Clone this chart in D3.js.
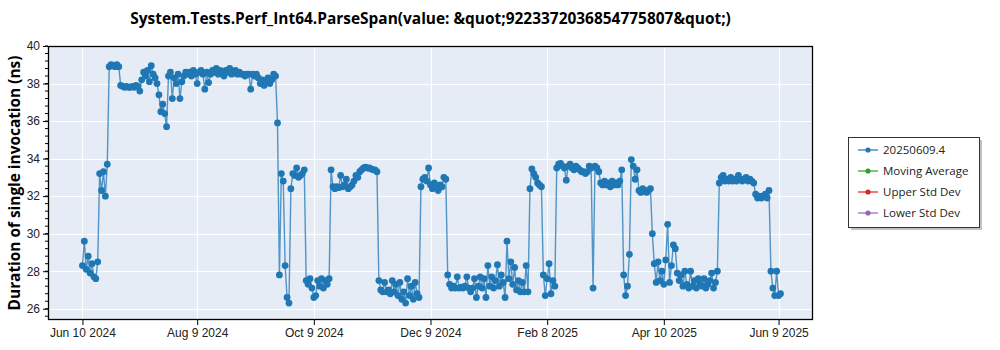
<!DOCTYPE html>
<html>
<head>
<meta charset="utf-8">
<script src="https://cdn.jsdelivr.net/npm/d3@7"></script>
<style>
  html, body { margin: 0; padding: 0; background: #fff; }
  svg { display: block; font-family: "Open Sans", "Noto Sans", sans-serif; }
</style>
</head>
<body>
<svg id="chart" width="1000" height="350"></svg>
<script>
// ---------------- data ----------------
const chartTitle = "System.Tests.Perf_Int64.ParseSpan(value: &quot;9223372036854775807&quot;)";
const yAxisTitle = "Duration of single invocation (ns)";
const seriesNames = ["20250609.4", "Moving Average", "Upper Std Dev", "Lower Std Dev"];
const seriesColors = ["#1f77b4", "#2ca02c", "#d62728", "#9467bd"];
const startDate = "2024-06-10";   // first measurement, one value per day after that
const values = [
  28.3, 29.6, 28.1, 28.8, 27.9, 28.4, 27.7, 27.6, 28.5,
  33.2, 32.3, 33.3, 32.0, 33.7,
  38.9, 39.0, 38.95, 38.9, 39.0, 38.9,
  37.9, 37.85, 37.8, 37.85, 37.8, 37.8, 37.85, 37.8, 37.9, 37.85, 37.6,
  38.2, 38.6, 38.4, 38.7, 38.1, 38.95, 38.5, 38.3, 38.0,
  37.4, 36.5, 36.9, 36.4, 35.7,
  38.4, 38.6, 37.2, 38.3, 38.0, 38.5, 37.2, 38.1,
  38.4, 38.6, 38.5, 38.6, 38.4, 38.7, 38.5, 38.0, 38.6, 38.7, 38.5, 37.7, 38.6, 38.05, 38.5, 38.7,
  38.6, 38.8, 38.5, 38.7, 38.6, 38.4, 38.7, 38.6, 38.8, 38.5, 38.6, 38.7, 38.5, 38.6, 38.5, 38.5,
  38.4, 38.5, 38.5, 37.7, 38.5, 38.4, 38.5, 38.3, 38.0, 38.2, 37.9, 38.1, 38.3, 38.0, 38.2, 38.5, 38.4,
  35.9,
  27.8, 33.2, 32.8, 28.3, 26.6, 26.3,
  32.4, 33.2, 33.1, 33.5, 33.0, 33.1, 33.2, 33.4,
  27.5, 27.3, 27.6, 27.1, 26.6, 26.7, 27.5, 27.2, 27.6, 27.1, 27.5, 27.3, 27.6,
  33.4, 32.5, 32.4, 32.5, 32.45, 33.1, 32.5, 32.6, 32.9, 32.4, 32.5, 32.6, 32.8, 33.1, 33.0, 33.3,
  33.4, 33.5, 33.55, 33.5, 33.5, 33.45, 33.4, 33.4, 33.3,
  27.5, 27.0, 26.9, 27.4, 26.9, 27.0, 26.8, 27.5, 26.9, 27.3, 26.7, 27.4, 26.5, 26.9, 26.3, 27.6,
  26.7, 27.2, 26.5, 27.4, 26.8, 26.6,
  32.5, 32.9, 33.0, 32.8, 33.5, 32.6, 32.4, 32.7, 32.5, 32.3, 32.6, 32.5, 33.0, 32.9,
  27.8, 27.3, 27.1, 27.2, 27.1, 27.7, 27.1, 27.15, 27.1, 27.2, 27.7, 27.1, 26.9, 27.1, 27.6, 26.6,
  27.2, 27.7, 27.1, 27.6, 26.6, 28.3, 27.2, 27.7, 27.1, 27.5, 28.35, 27.2, 27.8, 27.4, 26.6, 29.6,
  27.6, 28.5, 27.3, 28.2, 27.0, 27.5, 26.9, 27.4, 26.9, 28.3, 26.9,
  32.4, 33.45, 33.2, 33.0, 32.7, 32.6, 32.5,
  27.8, 26.7, 27.6, 28.4, 26.8, 27.5, 27.2,
  33.5, 33.7, 33.75, 33.6, 33.5, 32.85, 33.6, 33.7, 33.5, 33.4, 33.6, 33.5, 33.4, 33.3, 33.3, 33.2,
  33.3, 33.6, 33.5,
  27.1, 33.6, 33.5, 33.3,
  32.7, 32.6, 32.8, 32.6, 32.7, 32.5, 32.8, 32.6, 32.7, 32.6, 32.8, 33.4,
  27.8, 26.7, 27.2, 28.9,
  33.95, 33.6, 32.9, 33.4,
  32.3, 32.2, 32.4, 32.3, 32.2, 32.3, 32.4, 30.0, 28.4,
  27.4, 28.5, 27.5, 28.0, 27.3, 28.6, 30.5, 27.4, 28.3, 29.4, 29.2, 27.9, 27.5, 27.8, 27.2, 28.0,
  27.3, 27.1, 28.0, 27.2, 27.5, 27.1, 27.6, 27.3, 27.2, 27.6, 27.1, 27.3, 27.5, 27.9, 27.1, 27.4, 28.0,
  32.7, 33.0, 33.1, 32.8, 32.9, 32.8, 33.0, 32.8, 32.9, 32.8, 33.1, 32.9, 32.8, 32.9, 33.0, 32.8,
  32.9, 32.8, 32.7,
  32.1, 31.9, 32.0, 31.9, 32.0, 32.1, 31.9, 32.3,
  28.0, 27.1, 26.7, 28.0, 26.7, 26.8
];
const xTickDates = ["2024-06-10", "2024-08-09", "2024-10-09", "2024-12-09", "2025-02-08", "2025-04-10", "2025-06-09"];
const xTickLabels = ["Jun 10 2024", "Aug 9 2024", "Oct 9 2024", "Dec 9 2024", "Feb 8 2025", "Apr 10 2025", "Jun 9 2025"];
const xDomain = ["2024-05-23", "2025-06-27"];
const yDomain = [25.4, 40];
const yTicks = [26, 28, 30, 32, 34, 36, 38, 40];

// ---------------- layout ----------------
const svg = d3.select("#chart");
const plot = { left: 48, right: 813, top: 46, bottom: 320 };
const parse = d3.utcParse("%Y-%m-%d");
const t0 = parse(startDate);
const data = values.map((v, i) => ({ date: d3.utcDay.offset(t0, i), value: v }));

const x = d3.scaleUtc().domain(xDomain.map(parse)).range([plot.left, plot.right]);
const y = d3.scaleLinear().domain(yDomain).range([plot.bottom, plot.top]);

// plot background
svg.append("rect")
  .attr("x", plot.left).attr("y", plot.top)
  .attr("width", plot.right - plot.left).attr("height", plot.bottom - plot.top)
  .attr("fill", "#e5ecf6");

// grid
const grid = svg.append("g").attr("stroke", "#fff").attr("stroke-width", 1.2);
yTicks.forEach(t => grid.append("line")
  .attr("x1", plot.left).attr("x2", plot.right)
  .attr("y1", Math.round(y(t)) + 0.5).attr("y2", Math.round(y(t)) + 0.5));
xTickDates.forEach(t => grid.append("line")
  .attr("y1", plot.top).attr("y2", plot.bottom)
  .attr("x1", Math.round(x(parse(t))) + 0.5).attr("x2", Math.round(x(parse(t))) + 0.5));

// series
const clipId = "clip";
svg.append("clipPath").attr("id", clipId).append("rect")
  .attr("x", plot.left).attr("y", plot.top)
  .attr("width", plot.right - plot.left).attr("height", plot.bottom - plot.top);
const series = svg.append("g").attr("clip-path", `url(#${clipId})`);
series.append("path")
  .datum(data)
  .attr("fill", "none")
  .attr("stroke", seriesColors[0])
  .attr("stroke-opacity", 0.75)
  .attr("stroke-width", 1.4)
  .attr("d", d3.line().x(d => x(d.date)).y(d => y(d.value)));
series.selectAll("circle").data(data).join("circle")
  .attr("cx", d => x(d.date)).attr("cy", d => y(d.value))
  .attr("r", 3.4).attr("fill", seriesColors[0]);

// axes
const yMinor = d3.range(26, 40.001, 0.4).concat(d3.range(25.6, 26, 0.4));
const yAxis = d3.axisLeft(y).tickValues(yTicks).tickSize(5).tickPadding(3).tickFormat(d3.format("d"));
const gy = svg.append("g").attr("transform", `translate(${plot.left},0)`).call(yAxis);
gy.select(".domain").remove();
gy.selectAll("text").attr("font-size", 12).attr("fill", "#222");
gy.selectAll(".minor").data(yMinor).join("line")
  .attr("class", "minor")
  .attr("x1", -3).attr("x2", 0)
  .attr("y1", d => y(d)).attr("y2", d => y(d))
  .attr("stroke", "#000");

const xAxis = d3.axisBottom(x).tickValues(xTickDates.map(parse)).tickSize(5).tickPadding(3)
  .tickFormat((d, i) => xTickLabels[i]);
const gx = svg.append("g").attr("transform", `translate(0,${plot.bottom})`).call(xAxis);
gx.select(".domain").remove();
gx.selectAll("text").attr("font-size", 12).attr("fill", "#222");

// border
svg.append("rect")
  .attr("x", plot.left + 0.5).attr("y", plot.top + 0.5)
  .attr("width", plot.right - plot.left - 1).attr("height", plot.bottom - plot.top - 1)
  .attr("fill", "none").attr("stroke", "#000").attr("stroke-width", 1.3);

// title
const title = svg.append("text")
  .attr("x", (plot.left + plot.right) / 2).attr("y", 24)
  .attr("text-anchor", "middle")
  .attr("font-weight", "bold").attr("font-size", 15)
  .text(chartTitle);
const tw = title.node().getComputedTextLength();
title.attr("font-size", 15 * 601 / tw);

// y axis title
const yt = svg.append("text")
  .attr("transform", `translate(20,${(plot.top + plot.bottom) / 2}) rotate(-90)`)
  .attr("text-anchor", "middle")
  .attr("font-weight", "bold").attr("font-size", 16)
  .text(yAxisTitle);
const yw = yt.node().getComputedTextLength();
yt.attr("font-size", 16 * 255 / yw);

// legend
const lg = svg.append("g").attr("transform", "translate(848,137)");
lg.append("rect").attr("x", 3).attr("y", 3).attr("width", 131).attr("height", 90).attr("fill", "#999").attr("opacity", 0.6);
lg.append("rect").attr("x", 0.5).attr("y", 0.5).attr("width", 131).attr("height", 90)
  .attr("fill", "#fff").attr("stroke", "#333").attr("stroke-width", 1);
seriesNames.forEach((name, i) => {
  const row = lg.append("g").attr("transform", `translate(0,${13 + i * 21})`);
  row.append("line").attr("x1", 10).attr("x2", 30).attr("y1", 0).attr("y2", 0)
    .attr("stroke", seriesColors[i]).attr("stroke-width", 1.2);
  row.append("circle").attr("cx", 20).attr("cy", 0).attr("r", 2.6).attr("fill", seriesColors[i]);
  row.append("text").attr("x", 35).attr("y", 4).attr("font-size", 11.5).attr("fill", "#222").text(name);
});
</script>
</body>
</html>
